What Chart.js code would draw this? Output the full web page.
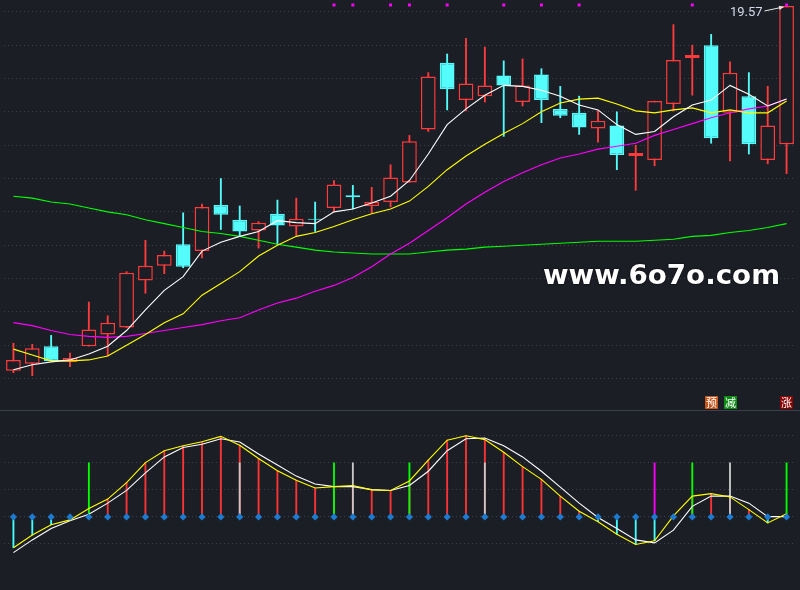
<!DOCTYPE html>
<html><head><meta charset="utf-8">
<script src="https://cdn.jsdelivr.net/npm/chart.js@4.4.1/dist/chart.umd.min.js"></script>
<style>
html,body{margin:0;padding:0;background:#1c1e26;width:800px;height:590px;overflow:hidden;}
#wrap{position:relative;width:800px;height:590px;background:#1c1e26;}
canvas{position:absolute;left:0;}
#top{top:0}
#bot{top:411px}
#divider{position:absolute;left:0;top:410px;width:800px;height:1px;background:#3a404e;}
.tag{position:absolute;top:396px;width:13px;height:13px;font:11px/13px "Noto Sans CJK SC";color:#fff;text-align:center;}
#wm{position:absolute;left:543px;top:259px;font:bold 27px/31px "DejaVu Sans";color:#fff;white-space:nowrap;transform-origin:0 0;text-shadow:0 0 2px #000;}
#hiLabel{position:absolute;font:13px/15px Roboto;color:#d4dbe8;white-space:nowrap;}
</style></head>
<body>
<div id="wrap">
<canvas id="top" width="800" height="410"></canvas>
<div id="divider"></div>
<canvas id="bot" width="800" height="179"></canvas>
<div id="wm">www.6o7o.com</div>
<div id="hiLabel"></div>
<div class="tag" style="left:705px;background:#c4561c;">预</div>
<div class="tag" style="left:724px;background:#0c8a14;">减</div>
<div class="tag" style="left:780px;background:#880000;">涨</div>
</div>
<script>
// ---------- data ----------
const categories = ['01','02','03','04','05','06','07','08','09','10','11','12','13','14','15','16','17','18','19','20','21',
  '22','23','24','25','26','27','28','29','30','31','32','33','34','35','36','37','38','39','40','41','42'];
const openP  = [15.85,15.92,16.10,15.94,16.10,16.22,16.29,16.77,16.92,17.14,17.07,17.54,17.39,17.28,17.45,17.32,17.40,17.51,17.64,17.53,17.57,
                17.77,18.31,18.99,18.61,18.65,18.86,18.59,18.87,18.52,18.48,18.32,18.35,18.04,18.00,18.57,19.04,19.17,18.48,18.65,18.00,18.16];
const closeP = [15.96,16.08,15.95,15.98,16.27,16.34,16.85,16.92,17.03,16.91,17.52,17.44,17.27,17.36,17.33,17.40,17.39,17.75,17.62,17.57,17.82,
                18.19,18.85,18.72,18.78,18.76,18.76,18.76,18.61,18.45,18.33,18.40,18.05,18.07,18.60,19.02,19.07,18.22,18.89,18.16,18.35,19.57];
const highP  = [16.13,16.12,16.21,16.03,16.55,16.41,16.86,17.18,17.07,17.46,17.55,17.81,17.53,17.37,17.59,17.61,17.57,17.79,17.74,17.72,17.95,
                18.25,18.89,19.08,19.24,19.15,19.01,19.03,18.93,18.75,18.65,18.50,18.49,18.15,18.60,19.38,19.17,19.28,19.00,18.89,18.75,19.57];
const lowP   = [15.83,15.80,15.95,15.89,16.10,16.00,16.29,16.64,16.84,16.90,17.00,17.29,17.22,17.10,17.14,17.23,17.27,17.47,17.50,17.46,17.52,
                17.77,18.29,18.51,18.50,18.59,18.24,18.55,18.38,18.43,18.26,18.18,17.90,17.69,17.94,18.50,18.66,18.17,17.99,18.06,17.96,17.86];
const ma5  = [15.86,15.91,15.94,15.96,16.02,16.10,16.26,16.47,16.67,16.81,17.07,17.16,17.22,17.27,17.38,17.36,17.35,17.47,17.50,17.56,17.63,
              17.79,18.06,18.36,18.52,18.66,18.76,18.75,18.71,18.65,18.56,18.51,18.36,18.26,18.29,18.44,18.56,18.61,18.76,18.67,18.55,18.62];
const ma10 = [16.07,16.01,15.95,15.95,15.96,16.00,16.11,16.22,16.34,16.43,16.62,16.74,16.86,17.02,17.13,17.22,17.26,17.32,17.39,17.45,17.50,
              17.58,17.73,17.90,18.04,18.16,18.27,18.37,18.49,18.58,18.62,18.63,18.57,18.50,18.48,18.51,18.53,18.48,18.51,18.48,18.48,18.60];
const ma20 = [16.34,16.31,16.26,16.22,16.20,16.19,16.20,16.23,16.26,16.29,16.32,16.36,16.39,16.47,16.54,16.59,16.66,16.72,16.80,16.91,17.04,
              17.15,17.28,17.41,17.55,17.67,17.78,17.87,17.95,18.02,18.06,18.11,18.14,18.17,18.25,18.31,18.37,18.43,18.48,18.52,18.55,18.62];
const ma60 = [17.63,17.61,17.57,17.55,17.51,17.47,17.44,17.39,17.35,17.31,17.27,17.25,17.22,17.18,17.14,17.11,17.08,17.06,17.05,17.04,17.04,
              17.04,17.06,17.08,17.09,17.11,17.12,17.13,17.14,17.15,17.16,17.17,17.17,17.17,17.18,17.19,17.22,17.23,17.26,17.28,17.31,17.35];
const topMarkIdx = [17,18,20,21,23,26,28,30,36,41];
const priceGrid = [19.51,19.17,18.83,18.49,18.15,17.81,17.47,17.13,16.79,16.45,16.11,15.77];
const priceMin = 15.49, priceMax = 19.59;

const kLine = [-1.32,-0.85,-0.43,-0.14,0.10,0.51,0.98,1.63,2.22,2.57,2.69,2.89,2.77,2.33,1.92,1.51,1.22,1.12,1.12,1.01,0.98,
               1.16,1.69,2.45,2.89,2.92,2.63,2.22,1.69,1.10,0.51,-0.02,-0.43,-0.85,-0.96,-0.49,0.39,0.77,0.77,0.51,0.01,0.01];
const dLine = [-1.14,-0.67,-0.29,-0.11,0.31,0.66,1.27,2.01,2.45,2.63,2.78,2.98,2.65,2.16,1.71,1.36,1.07,1.12,1.16,1.00,0.98,
               1.33,2.10,2.84,3.00,2.86,2.39,1.86,1.39,0.77,0.21,-0.18,-0.64,-1.02,-0.88,0.04,0.77,0.86,0.74,0.27,-0.22,0.12];
const signalIdx  = [4,12,17,18,21,25,34,36,38,41];
const signalKind = ['g','w','g','w','g','w','m','g','w','g'];
const signalLevel = 2;
const zeroRow = [0,0,0,0,0,0,0,0,0,0,0,0,0,0,0,0,0,0,0,0,0,0,0,0,0,0,0,0,0,0,0,0,0,0,0,0,0,0,0,0,0,0];
const oscGrid = [3,2,1,0,-1];
const oscMin = -2.555, oscMax = 3.77;

// ---------- styles ----------
const BG = '#1c1e26', UP = '#ff3b3b', DOWN = '#54fcfc';
const GRID = '#3c414e';
const sigColors = {g:'#00ff00', w:'#c8c8c8', m:'#ff00ff'};

const isUp = closeP.map((c,i)=>c>=openP[i]);
const topMarks = categories.map((_,i)=>topMarkIdx.includes(i) ? priceMax-0.01 : null);
const sigData = categories.map((_,i)=>signalIdx.includes(i) ? signalLevel : null);
const sigCol = categories.map((_,i)=>{const k=signalIdx.indexOf(i); return k>=0 ? sigColors[signalKind[k]] : 'rgba(0,0,0,0)';});

const commonX = {display:false, offset:true};
const pad = {left:0.5, right:3.5, top:0, bottom:0};
function yAxis(min,max,grid){
  return {display:true, position:'left', min, max,
    ticks:{display:false}, border:{display:false, dash:[1,3]},
    grid:{color:GRID, drawTicks:false, lineWidth:1},
    afterBuildTicks:s=>{s.ticks = grid.map(v=>({value:v}));}};
}
function line(data,color,order){
  return {type:'line', data, borderColor:color, borderWidth:1.1, pointRadius:0, tension:0, order};
}

const arrowPlugin = {
  id:'hiArrow',
  afterDatasetsDraw(chart){
    const hi = Math.max(...highP), idx = highP.indexOf(hi);
    const px = chart.scales.x.getPixelForValue(idx), py = chart.scales.y.getPixelForValue(hi);
    const ctx = chart.ctx;
    ctx.save();
    ctx.strokeStyle = '#e8e8e8'; ctx.fillStyle = '#e8e8e8'; ctx.lineWidth = 1;
    const x0 = px-22, y0 = py+5, x1 = px-3, y1 = py+1;
    ctx.beginPath(); ctx.moveTo(x0,y0); ctx.lineTo(x1,y1); ctx.stroke();
    const a = Math.atan2(y1-y0,x1-x0);
    ctx.beginPath(); ctx.moveTo(x1,y1);
    ctx.lineTo(x1-5*Math.cos(a-0.45), y1-5*Math.sin(a-0.45));
    ctx.lineTo(x1-5*Math.cos(a+0.45), y1-5*Math.sin(a+0.45));
    ctx.closePath(); ctx.fill();
    ctx.restore();
    const lab = document.getElementById('hiLabel');
    lab.textContent = hi.toFixed(2);
    const w = lab.getBoundingClientRect().width;
    lab.style.left = (px-24-w)+'px';
    lab.style.top = (py+6-7.5)+'px';
  }
};

new Chart(document.getElementById('top'), {
  type:'bar',
  data:{labels:categories, datasets:[
    {type:'bar', data:lowP.map((l,i)=>[l,highP[i]]), backgroundColor:isUp.map(u=>u?UP:DOWN),
     barThickness:1.2, grouped:false, order:10},
    {type:'bar', data:openP.map((o,i)=>[o,closeP[i]]), backgroundColor:isUp.map(u=>u?BG:DOWN),
     borderColor:isUp.map(u=>u?UP:DOWN), borderWidth:1.5, borderSkipped:false,
     barPercentage:0.78, categoryPercentage:1, grouped:false, order:9},
    line(ma60,'#00ff00',5),
    line(ma20,'#ff00ff',4),
    line(ma10,'#ffff00',3),
    line(ma5,'#ffffff',2),
    {type:'line', data:topMarks, showLine:false, pointStyle:'rect', pointRadius:2.1,
     pointBackgroundColor:'#ff00ff', pointBorderWidth:0, clip:false, order:1}
  ]},
  options:{responsive:false, animation:false, layout:{padding:pad},
    plugins:{legend:{display:false}, tooltip:{enabled:false}},
    scales:{x:commonX, y:yAxis(priceMin,priceMax,priceGrid)}},
  plugins:[arrowPlugin]
});

new Chart(document.getElementById('bot'), {
  type:'bar',
  data:{labels:categories, datasets:[
    {type:'bar', data:dLine, backgroundColor:dLine.map(v=>v>=0?'#ff3333':'#44ffff'),
     barThickness:1.2, grouped:false, order:10},
    {type:'bar', data:sigData, backgroundColor:sigCol, barThickness:1.2, grouped:false, order:9},
    line(kLine,'#ffffff',3),
    line(dLine,'#ffff00',2),
    {type:'line', data:zeroRow, showLine:false, pointStyle:'rectRot', pointRadius:3.6,
     pointBackgroundColor:'#1c7bd0', pointBorderColor:'#1c7bd0', pointBorderWidth:0, order:1}
  ]},
  options:{responsive:false, animation:false, layout:{padding:pad},
    plugins:{legend:{display:false}, tooltip:{enabled:false}},
    scales:{x:commonX, y:yAxis(oscMin,oscMax,oscGrid)}}
});

const wm = document.getElementById('wm');
const ww = wm.getBoundingClientRect().width;
wm.style.transform = 'scaleX(' + (237/ww) + ')';
</script>
</body></html>
